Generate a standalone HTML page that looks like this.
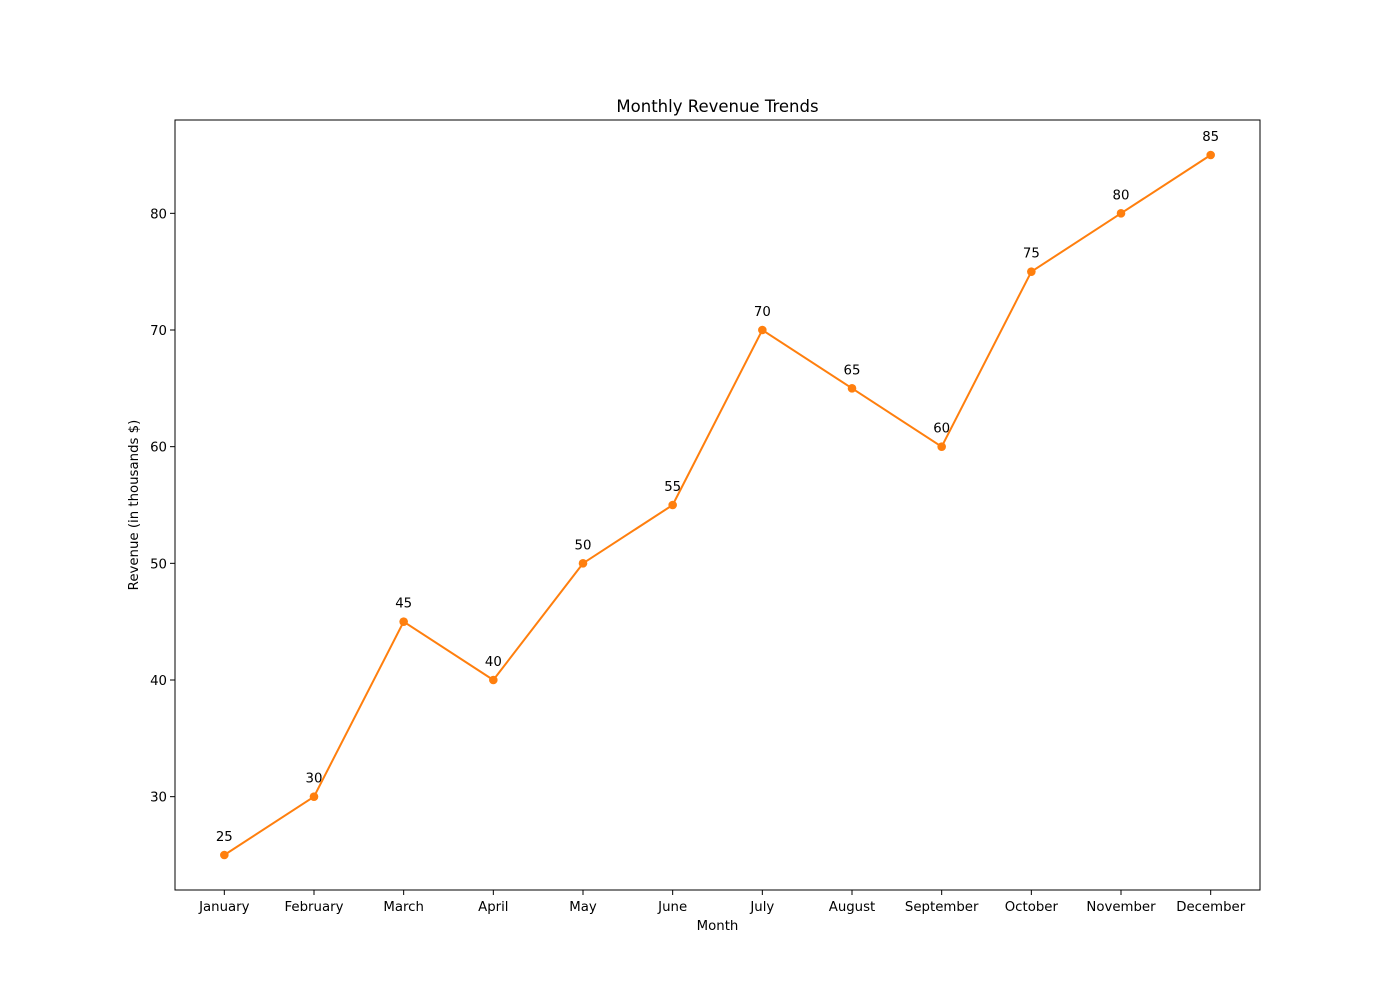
<!DOCTYPE html>
<html><head><meta charset="utf-8"><style>
body{margin:0;background:#fff}
svg text{font-family:"DejaVu Sans","Liberation Sans",sans-serif;fill:#000}
</style></head><body>
<svg id="chart" width="1400" height="1000">
<rect x="0" y="0" width="1400" height="1000" fill="#fff"/>
<text x="717.5" y="112" font-size="16.5" text-anchor="middle">Monthly Revenue Trends</text>
<g id="axes"></g>
<text x="717.5" y="930" font-size="13.3" text-anchor="middle">Month</text>
<text transform="translate(138,505) rotate(-90)" font-size="13.3" text-anchor="middle">Revenue (in thousands $)</text>
</svg>
<script>
const months=["January","February","March","April","May","June","July","August","September","October","November","December"];
const revenue=[25,30,45,40,50,55,70,65,60,75,80,85];
const yTicks=[30,40,50,60,70,80];
const L=175,R=1260,T=120,B=890;
const yMin=22,yMax=88;
const xs=i=>L+(i+0.55)*(R-L)/(months.length-1+1.1);
const ys=v=>B-(v-yMin)*(B-T)/(yMax-yMin);
const NS="http://www.w3.org/2000/svg";
const g=document.getElementById('axes');
function mk(t,a){const e=document.createElementNS(NS,t);for(const k in a)e.setAttribute(k,a[k]);g.appendChild(e);return e;}
yTicks.forEach(v=>{
 const tk=mk('line',{x1:L-5,x2:L,y1:ys(v),y2:ys(v),stroke:'#000','stroke-width':1});
 
 
 const t=mk('text',{x:L-8,y:ys(v)+5,'font-size':13.3,'text-anchor':'end'});t.textContent=v;
 
 
});
months.forEach((m,i)=>{
 const tk=mk('line',{x1:xs(i),x2:xs(i),y1:B,y2:B+5,stroke:'#000','stroke-width':1});
 
 
 const t=mk('text',{x:xs(i),y:B+21,'font-size':13.3,'text-anchor':'middle'});t.textContent=m;
 
 
});
const line=mk('polyline',{points:revenue.map((v,i)=>xs(i)+','+ys(v)).join(' '),fill:'none',stroke:'#ff7f0e','stroke-width':2});


revenue.forEach((v,i)=>{
 const c=mk('circle',{cx:xs(i),cy:ys(v),r:4.3,fill:'#ff7f0e'});
 
 
 const t=mk('text',{x:xs(i),y:ys(v)-14,'font-size':13.3,'text-anchor':'middle'});t.textContent=v;
 
 
});
const fr=mk('rect',{x:L,y:T,width:R-L,height:B-T,fill:'none',stroke:'#000','stroke-width':1});


</script>
</body></html>
